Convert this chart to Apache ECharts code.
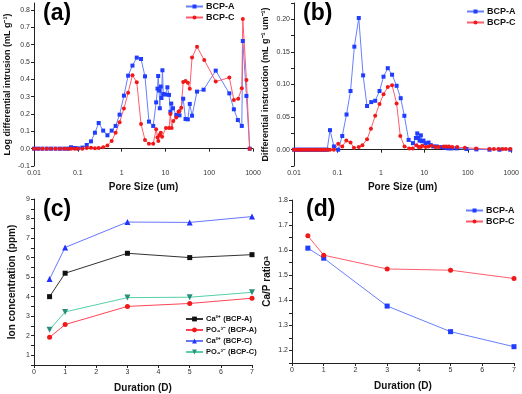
<!DOCTYPE html>
<html>
<head>
<meta charset="utf-8">
<script src="https://cdn.jsdelivr.net/npm/echarts@6/dist/echarts.min.js"></script>
<style>
  html, body { margin: 0; padding: 0; background: #fff; }
  #chart { width: 522px; height: 394px; }
</style>
</head>
<body>
<div id="chart"></div>
<script>
// (a) log differential intrusion
const aPoreA = [0.01, 0.0124, 0.0155, 0.0195, 0.0245, 0.031, 0.039, 0.049, 0.06, 0.07, 0.085, 0.1, 0.127, 0.16, 0.2, 0.246, 0.3, 0.38, 0.475, 0.594, 0.73, 0.9, 1.13, 1.41, 1.77, 2.22, 2.78, 3.42, 4.21, 5.27, 6.15, 6.6, 6.84, 7.2, 7.45, 7.85, 8.13, 8.55, 9.0, 10, 11.1, 12.1, 13, 13.6, 14.9, 17.7, 21, 25.5, 28.8, 32.5, 36, 40.6, 52.7, 74.5, 141, 288, 366, 451, 555, 585, 708, 841];
const aValA = [0, 0, 0, 0, 0, 0, 0, 0, 0, 0.008, 0.004, 0.002, 0.006, 0.021, 0.042, 0.092, 0.148, 0.104, 0.077, 0.104, 0.131, 0.196, 0.306, 0.421, 0.479, 0.525, 0.517, 0.417, 0.156, 0.131, 0.267, 0.346, 0.419, 0.335, 0.233, 0.358, 0.292, 0.452, 0.315, 0.312, 0.354, 0.31, 0.213, 0.26, 0.233, 0.194, 0.192, 0.288, 0.171, 0.169, 0.258, 0.19, 0.329, 0.34, 0.45, 0.319, 0.227, 0.165, 0.131, 0.621, 0.304, 0];
const aPoreC = [0.01, 0.0124, 0.0155, 0.0195, 0.0245, 0.031, 0.039, 0.049, 0.06, 0.07, 0.085, 0.1, 0.127, 0.16, 0.2, 0.246, 0.3, 0.38, 0.475, 0.594, 0.73, 0.9, 1.13, 1.41, 1.77, 2.22, 2.78, 3.42, 4.21, 5.27, 6.15, 6.6, 6.9, 7.3, 7.85, 8.4, 10.3, 12.1, 13, 13.9, 15.2, 17.7, 19.9, 21, 23, 25.5, 28.8, 32.5, 36, 40.6, 52.7, 77, 141, 288, 366, 460, 555, 585, 708, 841];
const aValC = [0, 0, 0, 0, 0, 0, 0, 0, 0, 0, 0, 0, 0, 0.004, 0.005, 0.003, 0.004, 0.008, 0.018, 0.044, 0.092, 0.152, 0.231, 0.323, 0.423, 0.383, 0.142, 0.05, 0.029, 0.029, 0.112, 0.065, 0.044, 0.079, 0.092, 0.069, 0.119, 0.119, 0.2, 0.119, 0.16, 0.18, 0.213, 0.217, 0.236, 0.385, 0.39, 0.38, 0.346, 0.525, 0.588, 0.512, 0.387, 0.41, 0.281, 0.288, 0.348, 0.748, 0.396, 0];

// (b) differential intrusion
const bPoreA = [0.01, 0.0113, 0.0128, 0.0145, 0.0165, 0.0187, 0.0212, 0.024, 0.0273, 0.031, 0.035, 0.04, 0.045, 0.051, 0.058, 0.0675, 0.083, 0.104, 0.129, 0.162, 0.2, 0.245, 0.31, 0.39, 0.48, 0.6, 0.74, 0.93, 1.15, 1.44, 1.81, 2.3, 2.86, 3.47, 4.35, 5.47, 6.4, 6.87, 7.23, 7.76, 8.32, 8.77, 9.57, 10.6, 12.5, 14.1, 16.2, 19.3, 25, 29.9, 35.6, 42.4, 55, 93, 158, 316, 537, 950];
const bValA = [0, 0, 0, 0, 0, 0, 0, 0, 0, 0, 0, 0, 0, 0, 0, 0.03, 0.005, 0, 0.021, 0.054, 0.09, 0.158, 0.202, 0.114, 0.067, 0.073, 0.075, 0.09, 0.112, 0.125, 0.115, 0.098, 0.079, 0.052, 0.015, 0.01, 0.018, 0.025, 0.018, 0.014, 0.022, 0.013, 0.014, 0.01, 0.011, 0.007, 0.005, 0.005, 0.004, 0.003, 0.002, 0.002, 0.002, 0.001, 0.0005, 0, 0, 0];
const bPoreC = [0.01, 0.0113, 0.0128, 0.0145, 0.0165, 0.0187, 0.0212, 0.024, 0.0273, 0.031, 0.035, 0.04, 0.045, 0.051, 0.058, 0.0675, 0.083, 0.104, 0.129, 0.16, 0.2, 0.24, 0.31, 0.375, 0.48, 0.59, 0.74, 0.93, 1.15, 1.44, 1.81, 2.3, 2.8, 3.5, 4.5, 5.4, 6.6, 7.4, 8.3, 9.0, 10.8, 12.5, 14.8, 18.3, 21.7, 28, 32, 37, 44, 57, 86, 156, 316, 400, 510, 630, 750, 950];
const bValC = [0, 0, 0, 0, 0, 0, 0, 0, 0, 0, 0, 0, 0, 0, 0, 0, 0, 0.009, 0.005, 0.014, 0.011, 0.003, 0.004, 0.007, 0.016, 0.032, 0.052, 0.07, 0.085, 0.096, 0.099, 0.071, 0.021, 0.005, 0.002, 0.002, 0.007, 0.004, 0.004, 0.006, 0.004, 0.005, 0.006, 0.004, 0.004, 0.005, 0.005, 0.005, 0.004, 0.004, 0.003, 0.002, 0.001, 0.001, 0.001, 0.001, 0.001, 0.001];

// (c) ion concentration, (d) Ca/P ratio
const days = [0.5, 1, 3, 5, 7];
const caA = [4.0, 5.2, 6.22, 6.0, 6.15];
const poA = [1.92, 2.57, 3.5, 3.65, 3.92];
const caC = [4.9, 6.52, 7.82, 7.8, 8.1];
const poC = [2.3, 3.22, 3.95, 3.97, 4.22];
const ratioA = [1.608, 1.568, 1.377, 1.275, 1.215];
const ratioC = [1.657, 1.58, 1.525, 1.52, 1.487];

const zip = (xs, ys) => xs.map((x, i) => [x, ys[i]]);

const chart = echarts.init(document.getElementById('chart'));

const tickLabel = { fontSize: 7, color: '#333', fontFamily: 'Liberation Sans', margin: 4 };
const axisLine = { lineStyle: { color: '#222', width: 1 } };
const axisTick = { length: 3, lineStyle: { color: '#222' } };
const nameStyle = { fontSize: 10, fontWeight: 'bold', color: '#111', fontFamily: 'Liberation Sans' };
const logFmt = v => String(+Number(v).toPrecision(2));
const stepFmt = (step, digits) => v => {
    const k = Math.round(v / step);
    return Math.abs(k * step - v) < 1e-6 ? v.toFixed(digits) : '';
};

const BLUE_LINE = '#6680ff', BLUE = '#1f3cff';
const RED_LINE = '#ff5c6c', RED = '#f01818';

function line(name, data, xi, lineColor, color, symbol, size) {
    return {
        name, type: 'line', data, xAxisIndex: xi, yAxisIndex: xi,
        symbol, symbolSize: size, showSymbol: true,
        lineStyle: { color: lineColor, width: 1 },
        itemStyle: { color },
        animation: false
    };
}

const xLog = (gi) => ({
    type: 'log', gridIndex: gi, min: 0.01, max: 1000, logBase: 10,
    name: 'Pore Size (um)', nameLocation: 'middle', nameGap: 16, nameTextStyle: nameStyle,
    axisLine, axisTick, axisLabel: Object.assign({ formatter: logFmt }, tickLabel),
    splitLine: { show: false }
});
const xDay = (gi) => ({
    type: 'value', gridIndex: gi, min: 0, max: 7, interval: 1,
    name: 'Duration (D)', nameLocation: 'middle', nameGap: 18, nameTextStyle: nameStyle,
    axisLine, axisTick, axisLabel: tickLabel, splitLine: { show: false }
});

const legendText = { fontSize: 9, fontWeight: 'bold', color: '#111', fontFamily: 'Liberation Sans', padding: [0, 0, 0, -2] };
const legendBase = { orient: 'vertical', itemGap: 2, itemWidth: 17, itemHeight: 5, textStyle: legendText, selectedMode: false, padding: 0 };

chart.setOption({
    backgroundColor: '#fff',
    title: [
        { text: '(a)', left: 38, top: -3 },
        { text: '(b)', left: 298, top: -3 },
        { text: '(c)', left: 38, top: 193 },
        { text: '(d)', left: 301, top: 193 }
    ].map(t => Object.assign(t, { textStyle: { fontSize: 23, fontWeight: 'bold', color: '#000', fontFamily: 'Liberation Sans' } })),
    grid: [
        { left: 34, top: 3, width: 219, height: 163 },
        { left: 294, top: 3, width: 219, height: 163 },
        { left: 34, top: 199, width: 218, height: 166 },
        { left: 292, top: 200, width: 222, height: 163 }
    ],
    legend: [
        Object.assign({}, legendBase, { data: ['BCP-A', 'BCP-C'], left: 185, top: 2 }),
        Object.assign({}, legendBase, { data: ['BCP-A ', 'BCP-C '], left: 466, top: 7 }),
        Object.assign({}, legendBase, {
            data: ['Ca²⁺ (BCP-A)', 'PO₄³⁻ (BCP-A)', 'Ca²⁺ (BCP-C)', 'PO₄³⁻ (BCP-C)'],
            left: 185, top: 315, itemGap: 3, itemWidth: 17, itemHeight: 6,
            textStyle: Object.assign({}, legendText, { fontSize: 7.5 })
        }),
        Object.assign({}, legendBase, { data: ['BCP-A  ', 'BCP-C  '], left: 465, top: 206 })
    ],
    xAxis: [xLog(0), xLog(1), xDay(2), xDay(3)],
    yAxis: [
        {
            type: 'value', gridIndex: 0, min: -0.1, max: 0.84, interval: 0.1,
            name: 'Log differential intrusion (mL g⁻¹)', nameLocation: 'middle', nameGap: 22,
            nameTextStyle: Object.assign({}, nameStyle, { fontSize: 9 }),
            axisLine, axisTick, axisLabel: Object.assign({ formatter: v => v.toFixed(1), showMaxLabel: false }, tickLabel),
            splitLine: { show: false }
        },
        {
            type: 'value', gridIndex: 1, min: -0.025, max: 0.225, interval: 0.025,
            name: 'Differential instruction (mL g⁻¹ um⁻¹)', nameLocation: 'middle', nameGap: 24,
            nameTextStyle: Object.assign({}, nameStyle, { fontSize: 9 }),
            axisLine, axisTick, axisLabel: Object.assign({ formatter: stepFmt(0.05, 2) }, tickLabel),
            splitLine: { show: false }
        },
        {
            type: 'value', gridIndex: 2, min: 0.5, max: 9, interval: 0.5,
            name: 'Ion concentration (ppm)', nameLocation: 'middle', nameGap: 17,
            nameTextStyle: nameStyle,
            axisLine, axisTick, axisLabel: Object.assign({ formatter: stepFmt(1, 0) }, tickLabel),
            splitLine: { show: false }
        },
        {
            type: 'value', gridIndex: 3, min: 1.15, max: 1.8, interval: 0.05,
            name: 'Ca/P ratioᵃ', nameLocation: 'middle', nameGap: 20,
            nameTextStyle: nameStyle,
            axisLine, axisTick, axisLabel: Object.assign({ formatter: stepFmt(0.1, 1) }, tickLabel),
            splitLine: { show: false }
        }
    ],
    series: [
        line('BCP-A', zip(aPoreA, aValA), 0, BLUE_LINE, BLUE, 'rect', 4),
        line('BCP-C', zip(aPoreC, aValC), 0, RED_LINE, RED, 'circle', 4),
        line('BCP-A ', zip(bPoreA, bValA), 1, BLUE_LINE, BLUE, 'rect', 4),
        line('BCP-C ', zip(bPoreC, bValC), 1, RED_LINE, RED, 'circle', 4),
        line('Ca²⁺ (BCP-A)', zip(days, caA), 2, '#333', '#111', 'rect', 5),
        line('PO₄³⁻ (BCP-A)', zip(days, poA), 2, '#ff4455', '#f01818', 'circle', 5),
        line('Ca²⁺ (BCP-C)', zip(days, caC), 2, '#6677ff', '#2233ff', 'triangle', 6),
        line('PO₄³⁻ (BCP-C)', zip(days, poC), 2, '#55d0a8', '#2a8f7a', 'path://M0,0 L10,0 L5,10 Z', 6),
        line('BCP-A  ', zip(days, ratioA), 3, BLUE_LINE, BLUE, 'rect', 5),
        line('BCP-C  ', zip(days, ratioC), 3, RED_LINE, RED, 'circle', 5)
    ]
});
</script>
</body>
</html>
